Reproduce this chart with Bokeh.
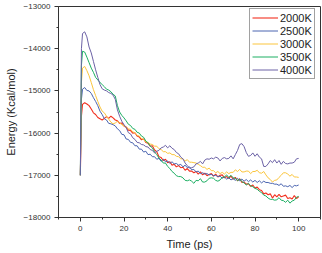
from bokeh.plotting import figure
from bokeh.models import Legend, LegendItem, Range1d, FixedTicker
from bokeh.embed import file_html
from bokeh.resources import INLINE

time_ps = [0, 0.5] + list(range(1, 101))

e_2000 = [-17000, -15600, -15320,
          -15280, -15310, -15350, -15430, -15520, -15560, -15630, -15660, -15690,
          -15650, -15610, -15650, -15600, -15640, -15690, -15710, -15770, -15760, -15830,
          -15860, -15930, -15940, -16000, -15990, -16070, -16090, -16160, -16140, -16220,
          -16240, -16310, -16300, -16400, -16440, -16560, -16580, -16650, -16620, -16700,
          -16680, -16760, -16740, -16800, -16770, -16820, -16810, -16880, -16840, -16900,
          -16900, -16940, -16910, -16970, -16920, -16990, -16950, -17010, -16980, -16960,
          -17020, -16970, -17040, -17000, -16990, -17060, -17030, -17070, -17020, -17090,
          -17050, -17130, -17080, -17170, -17160, -17210, -17200, -17260, -17230, -17300,
          -17280, -17340, -17360, -17440, -17420, -17460, -17440, -17540, -17460, -17510,
          -17450, -17510, -17490, -17470, -17550, -17530, -17560, -17480, -17550, -17510]

e_2500 = [-17000, -15200, -14960,
          -14920, -14990, -15000, -15060, -15160, -15250, -15350, -15480, -15560,
          -15660, -15690, -15770, -15780, -15800, -15830, -15900, -15940, -16030, -16040,
          -16140, -16150, -16220, -16230, -16300, -16300, -16380, -16380, -16450, -16430,
          -16510, -16500, -16560, -16560, -16620, -16600, -16670, -16620, -16680, -16660,
          -16720, -16680, -16730, -16720, -16760, -16740, -16800, -16760, -16820, -16800,
          -16870, -16860, -16920, -16900, -16960, -16940, -16970, -16960, -16990, -16980,
          -17010, -17000, -17030, -17020, -17070, -17040, -17090, -17060, -17110, -17080,
          -17120, -17070, -17130, -17090, -17140, -17100, -17150, -17110, -17160, -17120,
          -17170, -17130, -17180, -17140, -17170, -17170, -17190, -17190, -17210, -17210,
          -17240, -17200, -17260, -17250, -17270, -17240, -17290, -17240, -17250, -17230]

e_3000 = [-17000, -14800, -14460,
          -14420, -14520, -14640, -14800, -14970, -15110, -15250, -15380, -15480,
          -15520, -15600, -15670, -15740, -15780, -15760, -15720, -15760, -15800, -15830,
          -15850, -15900, -15910, -15970, -15990, -16050, -16070, -16130, -16150, -16210,
          -16220, -16260, -16270, -16310, -16310, -16370, -16390, -16440, -16440, -16480,
          -16470, -16510, -16510, -16550, -16560, -16610, -16610, -16660, -16630, -16690,
          -16690, -16700, -16710, -16740, -16770, -16810, -16810, -16860, -16830, -16890,
          -16890, -16940, -16910, -16960, -16930, -16970, -16920, -16960, -16930, -16930,
          -16870, -16910, -16860, -16920, -16920, -16900, -16900, -16960, -16910, -16910,
          -16880, -16940, -16950, -16910, -16990, -17060, -17100, -17160, -17120, -17110,
          -17050, -17000, -16940, -16940, -16970, -17020, -16980, -17040, -17040, -17050]

e_3500 = [-17000, -14400, -14060,
          -14080, -14200, -14330, -14460, -14560, -14680, -14740, -14800, -14850,
          -14900, -14960, -14980, -15020, -15080, -15120, -15350, -15500, -15580, -15640,
          -15710, -15790, -15820, -15890, -15910, -15980, -16000, -16070, -16100, -16190,
          -16230, -16310, -16350, -16450, -16510, -16590, -16640, -16710, -16710, -16790,
          -16840, -16910, -16950, -17010, -17030, -17030, -17060, -17120, -17130, -17110,
          -17140, -17190, -17120, -17130, -17080, -17160, -17160, -17130, -17070, -17060,
          -17070, -17120, -17140, -17110, -17050, -17040, -16990, -17050, -17000, -17060,
          -17070, -17130, -17090, -17150, -17180, -17230, -17190, -17250, -17270, -17310,
          -17330, -17380, -17410, -17470, -17490, -17540, -17570, -17570, -17590, -17580,
          -17530, -17590, -17600, -17640, -17590, -17660, -17610, -17590, -17520, -17500]

e_4000 = [-17000, -14000, -13640,
          -13600, -13720, -13960, -14100, -14300, -14500, -14680, -14850, -14950,
          -14980, -15000, -15040, -15060, -15100, -15200, -15450, -15600, -15720, -15800,
          -15870, -15990, -16020, -16110, -16150, -16220, -16230, -16270, -16280, -16320,
          -16330, -16390, -16410, -16470, -16430, -16410, -16350, -16330, -16290, -16350,
          -16300, -16360, -16390, -16460, -16490, -16570, -16610, -16710, -16770, -16830,
          -16820, -16800, -16730, -16710, -16670, -16730, -16640, -16610, -16620, -16590,
          -16610, -16570, -16590, -16660, -16600, -16580, -16610, -16600, -16540, -16610,
          -16510, -16410, -16270, -16250, -16320, -16460, -16550, -16530, -16470, -16550,
          -16490, -16570, -16610, -16790, -16790, -16730, -16650, -16700, -16630, -16710,
          -16650, -16740, -16670, -16720, -16730, -16710, -16710, -16690, -16610, -16600]

series_names = ["2000K", "2500K", "3000K", "3500K", "4000K"]
series_values = [e_2000, e_2500, e_3000, e_3500, e_4000]
series_colors = ["#f2301f", "#4a64b0", "#fbc53c", "#1daf63", "#6c62a6"]

x_ticks = [0, 20, 40, 60, 80, 100]
x_minor = [-10, 10, 30, 50, 70, 90, 110]
y_ticks = [-18000, -17000, -16000, -15000, -14000, -13000]
y_minor = [-17500, -16500, -15500, -14500, -13500]

FONT = "Liberation Sans"

p = figure(width=322, height=253, output_backend="svg", toolbar_location=None,
           x_range=Range1d(-10, 110), y_range=Range1d(-18000, -13000),
           min_border_left=58, min_border_right=2, min_border_top=6, min_border_bottom=36)
p.xgrid.visible = False
p.ygrid.visible = False
p.outline_line_color = "#333333"
p.outline_line_width = 1
p.background_fill_color = "white"
p.border_fill_color = "white"

renderers = []
for name, vals, col in zip(series_names, series_values, series_colors):
    r = p.line(time_ps, vals, line_color=col, line_width=1.1 if name == "2000K" else 1.0)
    renderers.append((name, r))

for ax in (p.xaxis[0], p.yaxis[0]):
    ax.axis_line_color = "#333333"
    ax.major_tick_line_color = "#333333"
    ax.minor_tick_line_color = "#333333"
    ax.major_tick_out = 4
    ax.major_tick_in = 0
    ax.minor_tick_out = 2
    ax.minor_tick_in = 0
    ax.major_label_text_font = FONT
    ax.major_label_text_font_size = "8px"
    ax.major_label_text_color = "#333333"
    ax.axis_label_text_font = FONT
    ax.axis_label_text_font_size = "11px"
    ax.axis_label_text_font_style = "normal"
    ax.axis_label_text_color = "#222222"

p.xaxis[0].ticker = FixedTicker(ticks=x_ticks, minor_ticks=x_minor)
p.yaxis[0].ticker = FixedTicker(ticks=y_ticks, minor_ticks=y_minor)
p.xaxis[0].axis_label = "Time (ps)"
p.yaxis[0].axis_label = "Energy (Kcal/mol)"
p.xaxis[0].major_label_standoff = 4
p.yaxis[0].major_label_standoff = 4
p.xaxis[0].axis_label_standoff = 4
p.yaxis[0].axis_label_standoff = 4

legend = Legend(items=[LegendItem(label=n, renderers=[r]) for n, r in renderers],
                location=(191, 138), orientation="vertical")
legend.label_text_font = FONT
legend.label_text_font_size = "11px"
legend.label_text_color = "#222222"
legend.label_height = 13
legend.glyph_height = 13
legend.glyph_width = 26
legend.label_standoff = 2
legend.spacing = 0
legend.padding = 2
legend.margin = 0
legend.border_line_color = "#444444"
legend.border_line_width = 1
legend.background_fill_alpha = 1
p.add_layout(legend, "center")

open("out.html", "w").write(file_html(p, INLINE))
